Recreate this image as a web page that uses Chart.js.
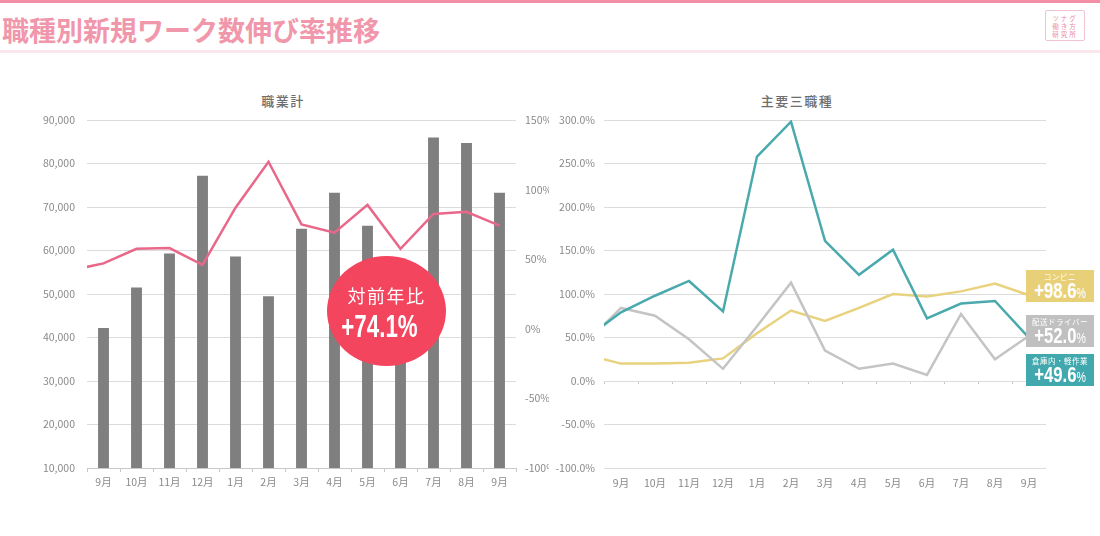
<!DOCTYPE html>
<html lang="ja">
<head>
<meta charset="utf-8">
<script src="https://cdn.jsdelivr.net/npm/chart.js@4"></script>
<style>
body { margin: 0; width: 1100px; height: 536px; overflow: hidden; background: #fff; font-family: "Noto Sans CJK JP", sans-serif; position: relative; }
canvas { position: absolute; top: 0; }
#topbar { position: absolute; left: 0; top: 0; width: 1100px; height: 3px; background: #f28fa6; }
#headline { position: absolute; left: 2px; top: 10px; font-size: 27px; line-height: 40px; font-weight: 700; color: #f197ab; white-space: nowrap; }
#underline { position: absolute; left: 0; top: 50px; width: 1100px; height: 3px; background: #fbe6ec; }
#logo { position: absolute; left: 1045px; top: 10px; width: 40px; height: 31px; border: 1px solid #f3c3cf; border-radius: 2px; color: #e88aa2; font-size: 6.5px; line-height: 8px; text-align: center; letter-spacing: 2px; padding-top: 3px; box-sizing: border-box; white-space: nowrap; }
.sub { position: absolute; top: 92px; width: 120px; text-align: center; font-size: 13px; line-height: 18px; font-weight: 500; color: #6e6e6e; letter-spacing: 1.5px; }
#circle { position: absolute; left: 327px; top: 256px; width: 119px; height: 110px; border-radius: 50%; background: #f4455f; color: #fff; text-align: center; }
#circle .a { position: absolute; left: 0; width: 119px; top: 27px; font-size: 18px; line-height: 24px; letter-spacing: 1.5px; }
#circle .b { position: absolute; left: -7px; width: 119px; top: 55px; font-size: 31px; line-height: 32px; font-weight: 700; font-family: "Liberation Sans", sans-serif; transform: scaleX(0.72); }
.badge { position: absolute; left: 1026px; width: 68px; height: 32px; color: #fff; text-align: center; overflow: hidden; }
.badge .a { position: absolute; left: 0; width: 68px; top: 1px; font-size: 7.5px; line-height: 11px; white-space: nowrap; letter-spacing: 0.5px; }
.badge .b { position: absolute; left: 0; width: 68px; top: 10px; font-size: 22px; line-height: 22px; font-weight: 700; font-family: "Liberation Sans", sans-serif; transform: scaleX(0.76); white-space: nowrap; }
.badge .b small { font-size: 14px; font-weight: 400; }
</style>
</head>
<body>
<div id="topbar"></div>
<div id="headline">職種別新規ワーク数伸び率推移</div>
<div id="underline"></div>
<div id="logo">ツナグ<br>働き方<br>研究所</div>
<div class="sub" style="left:223px">職業計</div>
<div class="sub" style="left:737px">主要三職種</div>

<canvas id="totalChart" width="549" height="536" style="left:0"></canvas>
<canvas id="jobChart" width="548" height="536" style="left:552px"></canvas>

<div id="circle"><div class="a">対前年比</div><div class="b">+74.1%</div></div>
<div class="badge" style="top:270px;background:#e8d078"><div class="a">コンビニ</div><div class="b">+98.6<small>%</small></div></div>
<div class="badge" style="top:315px;background:#c0c0c0"><div class="a">配送ドライバー</div><div class="b">+52.0<small>%</small></div></div>
<div class="badge" style="top:354px;background:#41a9ad"><div class="a">倉庫内・軽作業</div><div class="b">+49.6<small>%</small></div></div>

<script>
const months = ['9月', '10月', '11月', '12月', '1月', '2月', '3月', '4月', '5月', '6月', '7月', '8月', '9月'];
// x positions for the lines, -1 is the month before the axis starts (gets clipped)
const lineX = [-1, 0, 1, 2, 3, 4, 5, 6, 7, 8, 9, 10, 11, 12];

const totalWorks = [42200, 51500, 59300, 77200, 58600, 49500, 65000, 73300, 65700, 48000, 86000, 84700, 73300];
const totalRate = [42, 47, 57.5, 58, 46, 87, 120, 75, 69, 89, 57.5, 82.5, 84, 74.1];

const warehouseRate = [50, 79, 98, 115, 80, 258, 298, 161, 122, 151, 72, 89, 92, 49.6];
const driverRate = [45, 84, 75, 48, 14, 63, 113, 35, 14, 20, 7, 77, 25, 52];
const convenienceRate = [30, 20, 20, 21, 26, 55, 81, 69, 84, 100, 97, 103, 112, 98.6];

const tickColor = '#8a8a8a';
const gridColor = '#dcdcdc';
const tickFont = { family: '"Noto Sans CJK JP"', size: 10.5 };

function points(values) {
    return values.map((v, i) => ({ x: lineX[i], y: v }));
}

function lineSet(label, values, color, axis) {
    return {
        type: 'line', label: label, data: points(values), borderColor: color, borderWidth: 2.5,
        pointRadius: 0, tension: 0, xAxisID: 'xLine', yAxisID: axis, order: 0
    };
}

const hiddenX = { type: 'linear', display: false, min: -0.5, max: 12.5 };

new Chart(document.getElementById('totalChart'), {
    data: {
        labels: months,
        datasets: [
            // grouped off, otherwise the line's own x axis takes half of each bar slot
            { type: 'bar', label: '職業計', data: totalWorks, backgroundColor: '#7f7f7f', grouped: false, barPercentage: 0.33, categoryPercentage: 1, xAxisID: 'x', yAxisID: 'y', order: 1 },
            lineSet('前年比', totalRate, '#e9688a', 'yRate')
        ]
    },
    options: {
        responsive: false,
        animation: false,
        layout: { padding: { top: 120, left: 0, right: 0, bottom: 0 } },
        plugins: { legend: { display: false }, tooltip: { enabled: false } },
        scales: {
            x: {
                type: 'category', labels: months, offset: true,
                grid: { drawOnChartArea: false, color: '#c8c8c8', tickLength: 4, offset: true },
                border: { color: '#c8c8c8' },
                ticks: { color: tickColor, font: tickFont, maxRotation: 0, autoSkip: false, padding: 4 },
                afterFit: s => { s.height = 68; }
            },
            xLine: hiddenX,
            y: {
                min: 10000, max: 90000,
                grid: { color: gridColor, drawTicks: false },
                border: { display: false },
                ticks: { stepSize: 10000, color: tickColor, font: tickFont, padding: 12, callback: v => v.toLocaleString('en-US') },
                afterFit: s => { s.width = 87; }
            },
            yRate: {
                position: 'right', min: -100, max: 150,
                grid: { display: false, drawTicks: false },
                border: { display: false },
                ticks: { stepSize: 50, color: tickColor, font: tickFont, padding: 9, callback: v => v + '%' },
                afterFit: s => { s.width = 33; }
            }
        }
    }
});

new Chart(document.getElementById('jobChart'), {
    data: {
        labels: months,
        datasets: [
            lineSet('倉庫内・軽作業', warehouseRate, '#4aa9ad', 'y'),
            lineSet('配送ドライバー', driverRate, '#c4c4c4', 'y'),
            lineSet('コンビニ', convenienceRate, '#e8d27e', 'y')
        ]
    },
    options: {
        responsive: false,
        animation: false,
        layout: { padding: { top: 120, left: 0, right: 54, bottom: 0 } },
        plugins: { legend: { display: false }, tooltip: { enabled: false } },
        scales: {
            x: {
                type: 'category', labels: months, offset: true,
                grid: { display: false },
                border: { display: false },
                ticks: { color: tickColor, font: tickFont, maxRotation: 0, autoSkip: false, padding: 1 },
                afterFit: s => { s.height = 68; }
            },
            // the small tick marks sit on the 0% line in this chart
            xZero: {
                type: 'category', labels: months, offset: true, position: { y: 0 },
                grid: { drawOnChartArea: false, color: '#c8c8c8', tickLength: 3, offset: true },
                border: { display: false },
                ticks: { display: false }
            },
            xLine: hiddenX,
            y: {
                min: -100, max: 300,
                grid: { color: gridColor, drawTicks: false },
                border: { display: false },
                ticks: { stepSize: 50, color: tickColor, font: tickFont, padding: 9, callback: v => v.toFixed(1) + '%' },
                afterFit: s => { s.width = 52; }
            }
        }
    }
});
</script>
</body>
</html>
